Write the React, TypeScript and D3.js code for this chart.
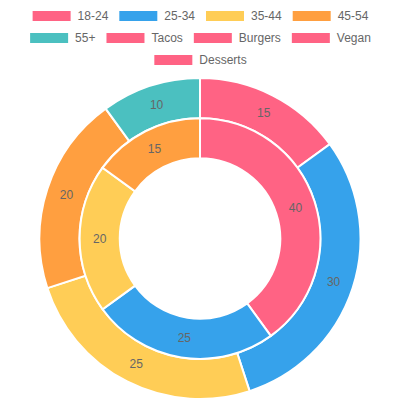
import React from "react";
import * as d3 from "d3";

// Survey data: outer ring = age groups, inner ring = food preferences
const ageLabels = ["18-24", "25-34", "35-44", "45-54", "55+"];
const ageValues = [15, 30, 25, 20, 10];
const foodLabels = ["Tacos", "Burgers", "Vegan", "Desserts"];
const foodValues = [40, 25, 20, 15];

const palette = [
  "rgb(255, 99, 132)",
  "rgb(54, 162, 235)",
  "rgb(255, 205, 86)",
  "rgb(255, 159, 64)",
  "rgb(75, 192, 192)",
];
const pink = "rgb(255, 99, 132)";

const W = 400;
const H = 400;
const FONT = "'Liberation Sans', Arial, Helvetica, sans-serif";
const FONT_SIZE = 12;

function measure(text: string): number {
  const c = document.createElement("canvas").getContext("2d");
  if (!c) return text.length * 6.5;
  c.font = `${FONT_SIZE}px ${FONT}`;
  return c.measureText(text).width;
}

type LegendItem = { label: string; color: string };

export default function App() {
  const legendItems: LegendItem[] = [
    ...ageLabels.map((l, i) => ({ label: l, color: palette[i % palette.length] })),
    ...foodLabels.map((l) => ({ label: l, color: pink })),
  ];

  // Legend layout: box 40 wide, gap 6, text, 10 padding; wrap at chart width
  const boxW = 40;
  const boxH = 12;
  const pad = 10;
  const lineH = 22;
  const rows: { item: LegendItem; w: number; tw: number }[][] = [[]];
  let lineW = 0;
  legendItems.forEach((item) => {
    const tw = measure(item.label);
    const w = boxW + FONT_SIZE / 2 + tw + pad;
    if (lineW + w > W && rows[rows.length - 1].length) {
      rows.push([]);
      lineW = 0;
    }
    rows[rows.length - 1].push({ item, w, tw });
    lineW += w;
  });

  const legendBottom = pad + rows.length * lineH + 1;
  const areaH = H - legendBottom;
  const outerR = (Math.min(W, areaH) - 2) / 2;
  const innerR = outerR * 0.5;
  const ringW = (outerR - innerR) / 2;
  const cx = W / 2;
  const cy = legendBottom + areaH / 2;

  const pie = d3.pie<number>().sort(null).value((d) => d);
  const outerArcs = pie(ageValues);
  const innerArcs = pie(foodValues);
  const outerArc = d3.arc<d3.PieArcDatum<number>>().innerRadius(outerR - ringW).outerRadius(outerR);
  const innerArc = d3.arc<d3.PieArcDatum<number>>().innerRadius(innerR).outerRadius(innerR + ringW);

  return (
    <svg
      width={W}
      height={H}
      style={{ position: "absolute", left: 0, top: 0, background: "#fff" }}
      fontFamily={FONT}
    >
      <g>
        {rows.map((row, ri) => {
          const total = row.reduce((s, r) => s + r.w, 0);
          let x = (W + pad - total) / 2;
          const y = pad + ri * lineH;
          return row.map((r, i) => {
            const bx = x;
            x += r.w;
            return (
              <g key={`${ri}-${i}`}>
                <rect x={bx} y={y} width={boxW} height={boxH} fill={r.item.color} stroke="#fff" strokeWidth={2} />
                <text
                  x={bx + boxW + FONT_SIZE / 2}
                  y={y + boxH / 2}
                  dominantBaseline="central"
                  fontSize={FONT_SIZE}
                  fill="#666"
                >
                  {r.item.label}
                </text>
              </g>
            );
          });
        })}
      </g>
      <g transform={`translate(${cx},${cy})`}>
        {outerArcs.map((a, i) => (
          <path key={`o${i}`} d={outerArc(a) || ""} fill={palette[i]} stroke="#fff" strokeWidth={2} />
        ))}
        {innerArcs.map((a, i) => (
          <path key={`i${i}`} d={innerArc(a) || ""} fill={palette[i]} stroke="#fff" strokeWidth={2} />
        ))}
        {outerArcs.map((a, i) => {
          const [x, y] = outerArc.centroid(a);
          return (
            <text key={`ol${i}`} x={x} y={y} textAnchor="middle" dominantBaseline="central" fontSize={12} fill="#666">
              {a.data}
            </text>
          );
        })}
        {innerArcs.map((a, i) => {
          const [x, y] = innerArc.centroid(a);
          return (
            <text key={`il${i}`} x={x} y={y} textAnchor="middle" dominantBaseline="central" fontSize={12} fill="#666">
              {a.data}
            </text>
          );
        })}
      </g>
    </svg>
  );
}
